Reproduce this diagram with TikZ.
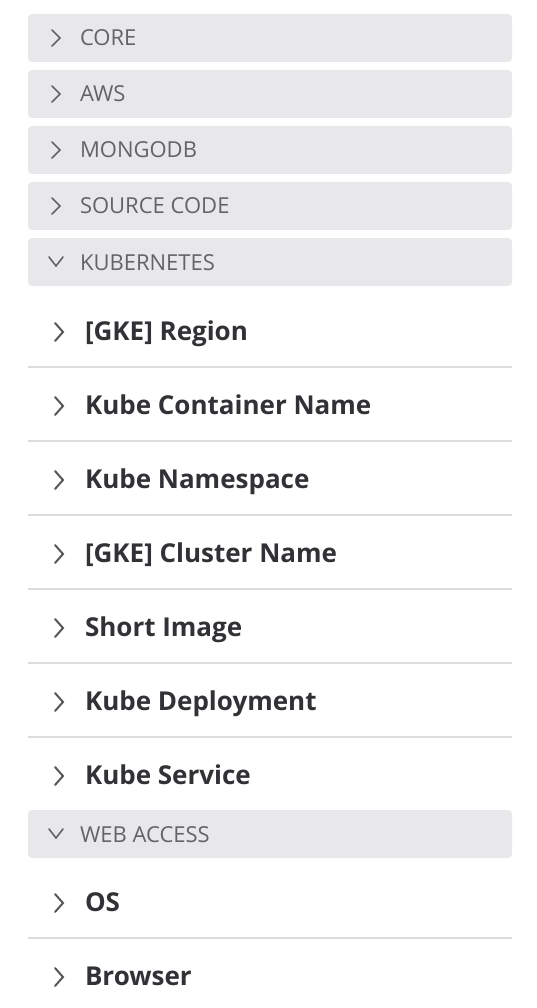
\documentclass[tikz,border=0pt]{standalone}
\usepackage{fontspec}
\setmainfont{Open Sans}
\usetikzlibrary{positioning}
\definecolor{hdrfill}{HTML}{E8E8EA}
\definecolor{hdrtext}{HTML}{646468}
\definecolor{rowchev}{HTML}{56565A}
\definecolor{itemtext}{HTML}{323236}
\definecolor{seprule}{HTML}{DCDCE0}

\begin{document}
\begin{tikzpicture}[x=1pt, y=-1pt,
  every node/.style={inner sep=0pt, outer sep=0pt},
  chev/.style={draw=hdrtext, line width=1.6pt, sharp corners, line cap=round, line join=miter},
  hdr/.style={fill=hdrfill, rounded corners=4pt, minimum width=484pt, minimum height=48pt},
  shut/.style={hdr, path picture={\draw[chev] (path picture bounding box.west) ++(24,-8) -- ++(8,8) -- ++(-8,8);}},
  opened/.style={hdr, path picture={\draw[chev] (path picture bounding box.west) ++(21,-5) -- ++(7,9) -- ++(7,-9);}},
  row/.style={minimum width=484pt, minimum height=74pt,
    path picture={\draw[chev, draw=rowchev, line width=2pt] (path picture bounding box.west) ++(27,-7) -- ++(8,9) -- ++(-8,9);}},
  hdrlabel/.style={text=hdrtext, font=\fontsize{22}{26}\selectfont, text height=16pt, text depth=0pt},
  rowlabel/.style={text=itemtext, font=\fontsize{26}{30}\selectfont\bfseries, text height=21pt, text depth=0pt},
  sep/.style={draw=seprule, line width=2pt}]
  \useasboundingbox (0,0) rectangle (536,1008);

  \node[shut] (core) at (270,38) {};
  \node[shut, below=8pt of core] (aws) {};
  \node[shut, below=8pt of aws] (mongo) {};
  \node[shut, below=8pt of mongo] (source) {};
  \node[opened, below=8pt of source] (kube) {};
  \node[row, below=7pt of kube] (region) {};
  \node[row, below=0pt of region] (container) {};
  \node[row, below=0pt of container] (namespace) {};
  \node[row, below=0pt of namespace] (cluster) {};
  \node[row, below=0pt of cluster] (image) {};
  \node[row, below=0pt of image] (deploy) {};
  \node[row, below=0pt of deploy] (service) {};
  \node[opened, below=-1pt of service] (web) {};
  \node[row, below=6pt of web] (os) {};
  \node[row, below=0pt of os] (browser) {};

  \node[hdrlabel, right=52pt of core.west] (corelbl) {CORE};
  \node[hdrlabel, right=52pt of aws.west] (awslbl) {AWS};
  \node[hdrlabel, right=52pt of mongo.west] (mongolbl) {MONGODB};
  \node[hdrlabel, right=52pt of source.west] (sourcelbl) {SOURCE CODE};
  \node[hdrlabel, right=52pt of kube.west] (kubelbl) {KUBERNETES};
  \node[hdrlabel, right=52pt of web.west] (weblbl) {WEB ACCESS};

  \node[rowlabel, right=57pt of region.west] (regionlbl) {[GKE] Region};
  \node[rowlabel, right=57pt of container.west] (containerlbl) {Kube Container Name};
  \node[rowlabel, right=57pt of namespace.west] (namespacelbl) {Kube Namespace};
  \node[rowlabel, right=57pt of cluster.west] (clusterlbl) {[GKE] Cluster Name};
  \node[rowlabel, right=57pt of image.west] (imagelbl) {Short Image};
  \node[rowlabel, right=57pt of deploy.west] (deploylbl) {Kube Deployment};
  \node[rowlabel, right=57pt of service.west] (servicelbl) {Kube Service};
  \node[rowlabel, right=57pt of os.west] (oslbl) {OS};
  \node[rowlabel, right=57pt of browser.west] (browserlbl) {Browser};

  \draw[sep] (region.south west) -- (region.south east);
  \draw[sep] (container.south west) -- (container.south east);
  \draw[sep] (namespace.south west) -- (namespace.south east);
  \draw[sep] (cluster.south west) -- (cluster.south east);
  \draw[sep] (image.south west) -- (image.south east);
  \draw[sep] (deploy.south west) -- (deploy.south east);
  \draw[sep] (os.south west) -- (os.south east);
\end{tikzpicture}
\end{document}
